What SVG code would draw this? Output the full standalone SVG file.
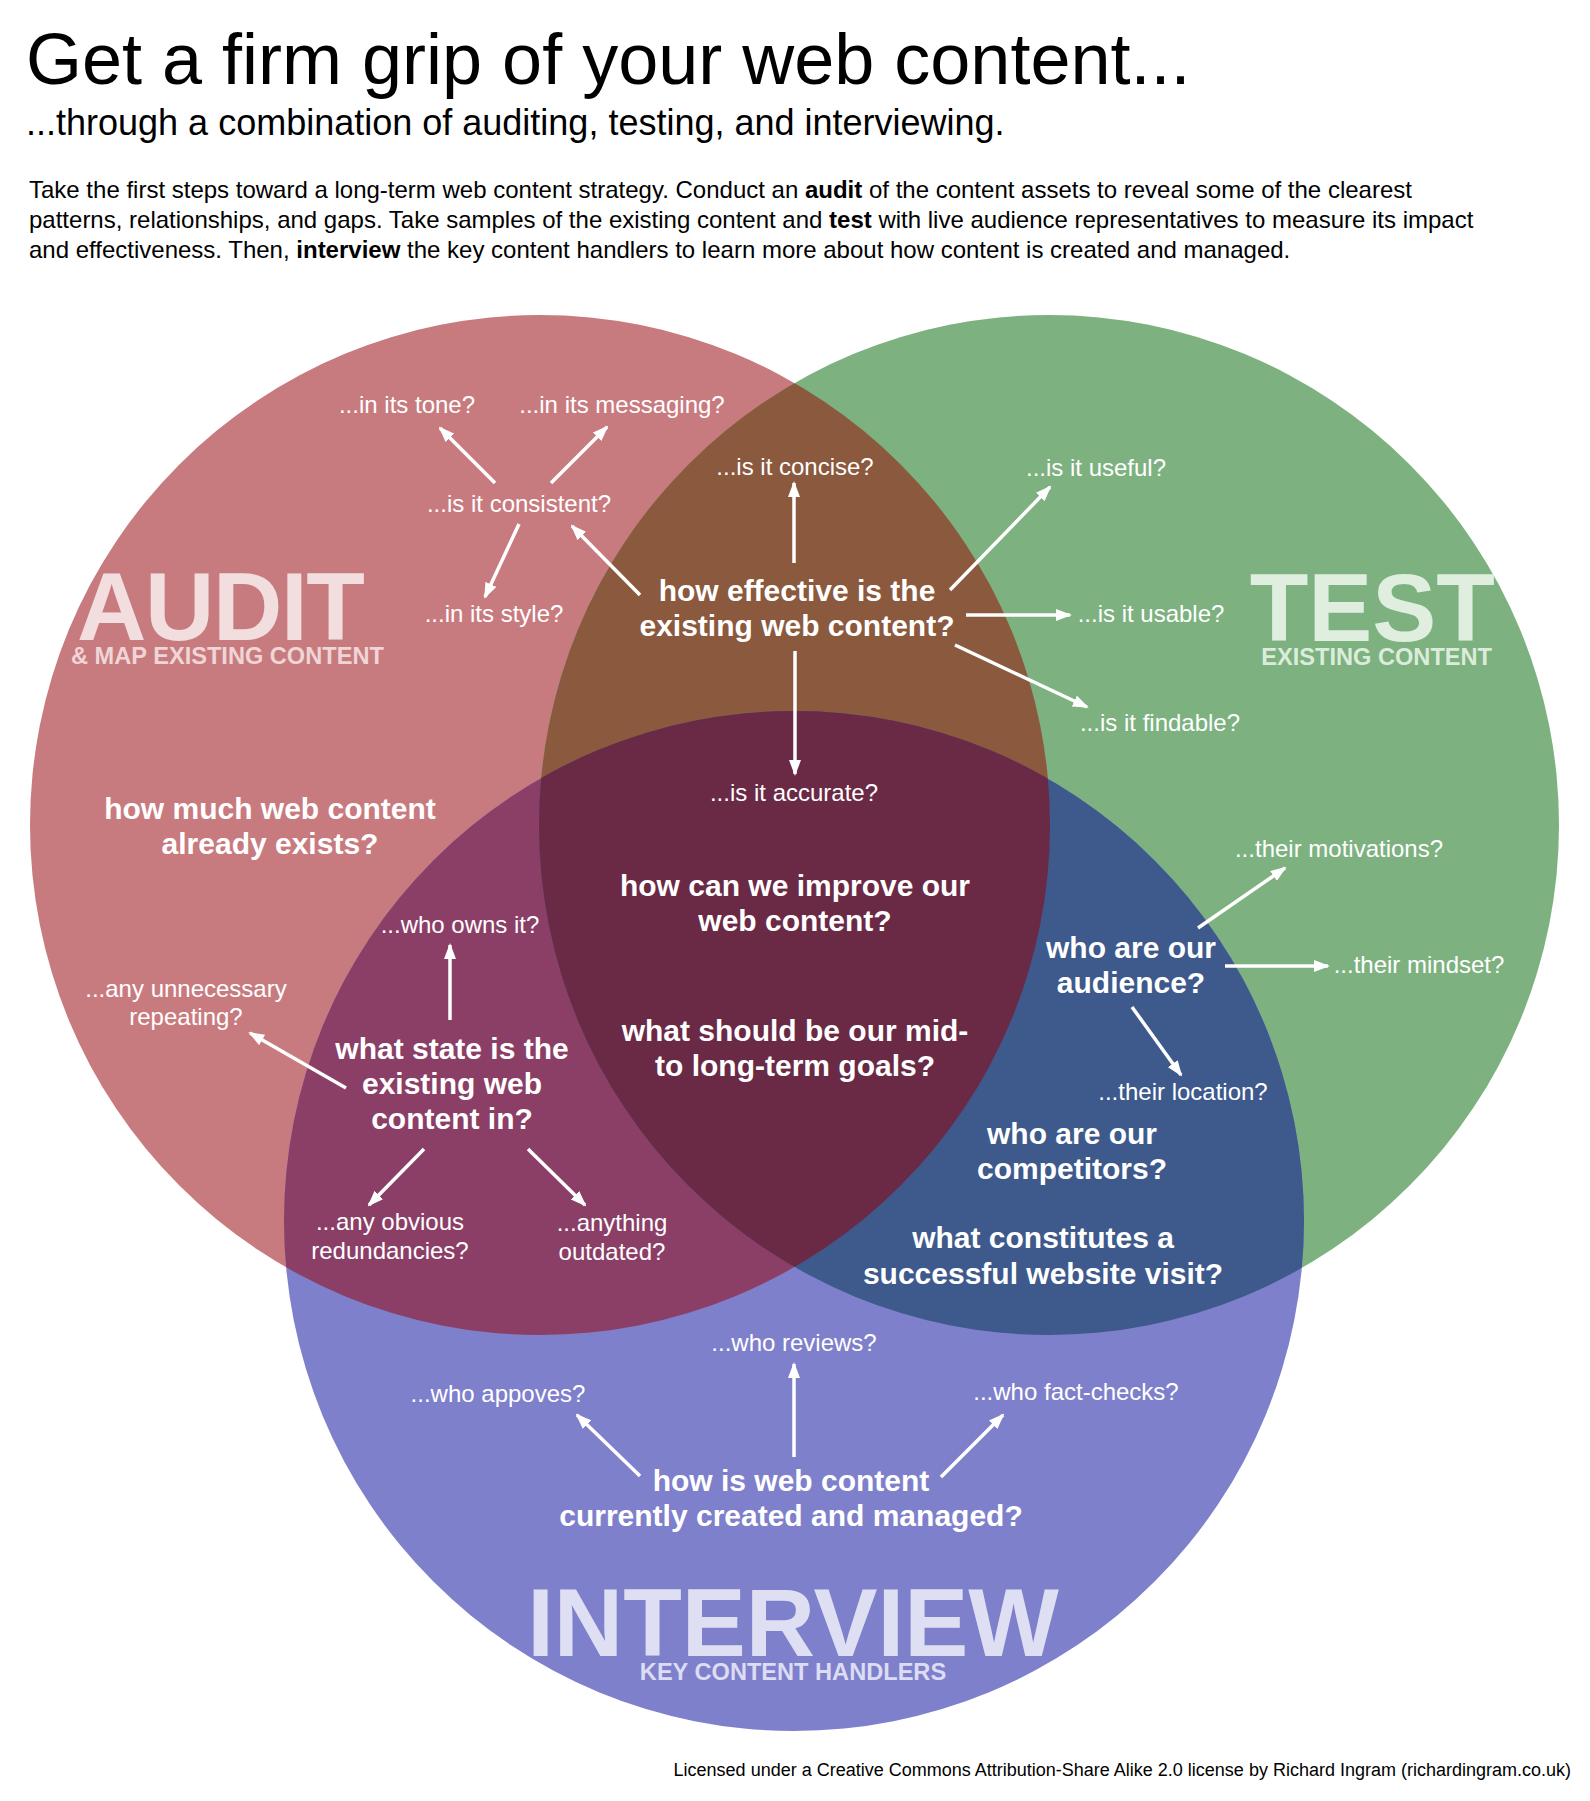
<svg xmlns="http://www.w3.org/2000/svg" width="1590" height="1801" viewBox="0 0 1590 1801">
<style>
text { font-family: "Liberation Sans", Arial, sans-serif; }
.title { font-size: 72px; fill: #000; }
.sub { font-size: 36px; fill: #000; }
.para { font-size: 24px; fill: #000; }
.para .b { font-weight: bold; }
.q { font-size: 30px; font-weight: bold; fill: #fff; text-anchor: middle; }
.s { font-size: 24px; fill: #fff; text-anchor: middle; }
.big { font-size: 96px; font-weight: bold; }
.tag { font-size: 23.6px; font-weight: bold; }
.lic { font-size: 18px; fill: #000; text-anchor: end; }
.arrow { stroke: #fff; stroke-width: 3.5; fill: none; marker-end: url(#head); }
</style>
<defs>
<marker id="head" viewBox="0 0 16 12" refX="14" refY="6" markerWidth="16" markerHeight="12" markerUnits="userSpaceOnUse" orient="auto">
<path d="M0,0 L16,6 L0,12 z" fill="#fff"/>
</marker>
<clipPath id="clipA"><circle cx="540" cy="825" r="510"/></clipPath>
<clipPath id="clipT"><circle cx="1049" cy="825" r="510"/></clipPath>
</defs>
<rect width="1590" height="1801" fill="#fff"/>

<g id="header">
<text class="title" x="26" y="84">Get a firm grip of your web content...</text>
<text class="sub" x="26" y="135">...through a combination of auditing, testing, and interviewing.</text>
<text class="para" x="29" y="198">Take the first steps toward a long-term web content strategy. Conduct an <tspan class="b">audit</tspan> of the content assets to reveal some of the clearest</text>
<text class="para" x="29" y="228">patterns, relationships, and gaps. Take samples of the existing content and <tspan class="b">test</tspan> with live audience representatives to measure its impact</text>
<text class="para" x="29" y="258">and effectiveness. Then, <tspan class="b">interview</tspan> the key content handlers to learn more about how content is created and managed.</text>
</g>

<g id="venn">
<circle id="circle-audit" cx="540" cy="825" r="510" fill="#C87B7F"/>
<circle id="circle-test" cx="1049" cy="825" r="510" fill="#7DB17F"/>
<circle id="circle-interview" cx="794" cy="1221" r="510" fill="#7F80CC"/>
<g clip-path="url(#clipA)"><circle cx="1049" cy="825" r="510" fill="#8B593E"/></g>
<g clip-path="url(#clipA)"><circle cx="794" cy="1221" r="510" fill="#8B3F67"/></g>
<g clip-path="url(#clipT)"><circle cx="794" cy="1221" r="510" fill="#3E598B"/></g>
<g clip-path="url(#clipA)"><g clip-path="url(#clipT)"><circle cx="794" cy="1221" r="510" fill="#6A2A45"/></g></g>
</g>

<g id="label-audit">
<text class="big" x="77" y="640" fill="#F2DEDF" textLength="288">AUDIT</text>
<text class="tag" x="71" y="664" fill="#EFD5D6">&amp; MAP EXISTING CONTENT</text>
</g>
<g id="label-test">
<text class="big" x="1495" y="641" fill="#DFEEDF" text-anchor="end">TEST</text>
<text class="tag" x="1492" y="665" fill="#DCECDC" text-anchor="end">EXISTING CONTENT</text>
</g>
<g id="label-interview">
<text class="big" x="793" y="1656" fill="#DFDFF3" text-anchor="middle">INTERVIEW</text>
<text class="tag" x="793" y="1680" fill="#DCDCF2" text-anchor="middle">KEY CONTENT HANDLERS</text>
</g>

<g id="node-consistent">
<text class="s" x="407" y="413">...in its tone?</text>
<text class="s" x="622" y="413">...in its messaging?</text>
<text class="s" x="519" y="512">...is it consistent?</text>
<text class="s" x="494" y="622">...in its style?</text>
</g>
<g id="node-effective">
<text class="q" x="797" y="601">how effective is the</text>
<text class="q" x="797" y="636">existing web content?</text>
<text class="s" x="795" y="475">...is it concise?</text>
<text class="s" x="1096" y="476">...is it useful?</text>
<text class="s" x="1151" y="622">...is it usable?</text>
<text class="s" x="1160" y="731">...is it findable?</text>
<text class="s" x="794" y="801">...is it accurate?</text>
</g>
<g id="node-how-much">
<text class="q" x="270" y="819">how much web content</text>
<text class="q" x="270" y="854">already exists?</text>
</g>
<g id="node-center">
<text class="q" x="795" y="896">how can we improve our</text>
<text class="q" x="795" y="931">web content?</text>
<text class="q" x="795" y="1041">what should be our mid-</text>
<text class="q" x="795" y="1076">to long-term goals?</text>
</g>
<g id="node-state">
<text class="q" x="452" y="1059">what state is the</text>
<text class="q" x="452" y="1094">existing web</text>
<text class="q" x="452" y="1129">content in?</text>
<text class="s" x="460" y="933">...who owns it?</text>
<text class="s" x="186" y="997">...any unnecessary</text>
<text class="s" x="186" y="1025">repeating?</text>
<text class="s" x="390" y="1230">...any obvious</text>
<text class="s" x="390" y="1259">redundancies?</text>
<text class="s" x="612" y="1231">...anything</text>
<text class="s" x="612" y="1260">outdated?</text>
</g>
<g id="node-audience">
<text class="q" x="1131" y="958">who are our</text>
<text class="q" x="1131" y="993">audience?</text>
<text class="s" x="1339" y="857">...their motivations?</text>
<text class="s" x="1419" y="973">...their mindset?</text>
<text class="s" x="1183" y="1100">...their location?</text>
</g>
<g id="node-competitors">
<text class="q" x="1072" y="1144">who are our</text>
<text class="q" x="1072" y="1179">competitors?</text>
</g>
<g id="node-visit">
<text class="q" x="1043" y="1248">what constitutes a</text>
<text class="q" x="1043" y="1284">successful website visit?</text>
</g>
<g id="node-created">
<text class="q" x="791" y="1491">how is web content</text>
<text class="q" x="791" y="1526">currently created and managed?</text>
<text class="s" x="794" y="1351">...who reviews?</text>
<text class="s" x="498" y="1402">...who appoves?</text>
<text class="s" x="1076" y="1400">...who fact-checks?</text>
</g>

<g id="connectors">
<line class="arrow" x1="495" y1="483" x2="440" y2="428"/>
<line class="arrow" x1="551" y1="483" x2="607" y2="427"/>
<line class="arrow" x1="519" y1="524" x2="485" y2="597"/>
<line class="arrow" x1="640" y1="595" x2="572" y2="526"/>
<line class="arrow" x1="794" y1="563" x2="794" y2="483"/>
<line class="arrow" x1="950" y1="590" x2="1050" y2="487"/>
<line class="arrow" x1="966" y1="615" x2="1070" y2="615"/>
<line class="arrow" x1="955" y1="645" x2="1087" y2="707"/>
<line class="arrow" x1="795" y1="651" x2="795" y2="774"/>
<line class="arrow" x1="450" y1="1020" x2="450" y2="945"/>
<line class="arrow" x1="346" y1="1088" x2="250" y2="1033"/>
<line class="arrow" x1="424" y1="1149" x2="369" y2="1205"/>
<line class="arrow" x1="528" y1="1149" x2="585" y2="1205"/>
<line class="arrow" x1="1198" y1="928" x2="1285" y2="868"/>
<line class="arrow" x1="1225" y1="966" x2="1328" y2="966"/>
<line class="arrow" x1="1132" y1="1007" x2="1181" y2="1075"/>
<line class="arrow" x1="794" y1="1457" x2="794" y2="1364"/>
<line class="arrow" x1="640" y1="1476" x2="577" y2="1415"/>
<line class="arrow" x1="941" y1="1477" x2="1003" y2="1415"/>
</g>

<text class="lic" x="1571" y="1776">Licensed under a Creative Commons Attribution-Share Alike 2.0 license by Richard Ingram (richardingram.co.uk)</text>
</svg>
